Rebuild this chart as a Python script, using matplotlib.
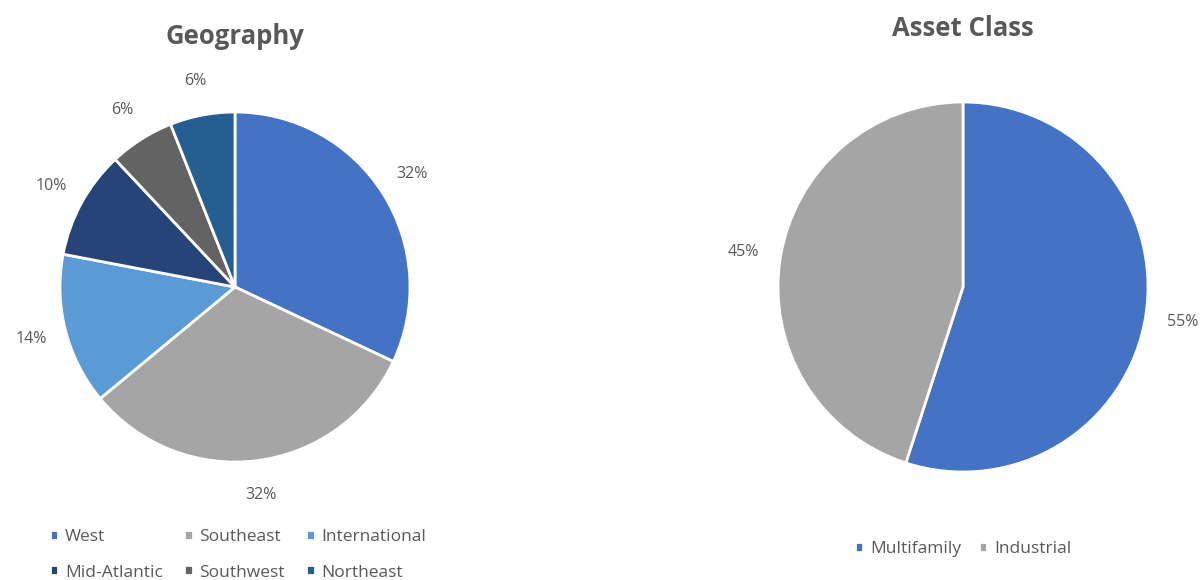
import matplotlib
matplotlib.use("Agg")
import matplotlib.pyplot as plt

plt.rcParams["font.family"] = ["Open Sans", "DejaVu Sans"]

TEXT = "#595959"

# Geography
geo_labels = ["West", "Southeast", "International", "Mid-Atlantic", "Southwest", "Northeast"]
geo_values = [32, 32, 14, 10, 6, 6]
geo_colors = ["#4472C4", "#A5A5A5", "#5B9BD5", "#264478", "#636363", "#255E91"]

# Asset class
asset_labels = ["Multifamily", "Industrial"]
asset_values = [55, 45]
asset_colors = ["#4472C4", "#A5A5A5"]


def draw_pie(ax, values, colors):
    wedges, _, _ = ax.pie(values, colors=colors, startangle=90, counterclock=False,
                          autopct="%1.0f%%", pctdistance=1.2,
                          wedgeprops=dict(edgecolor="white", linewidth=2),
                          textprops=dict(color=TEXT, fontsize=11.5))
    ax.set_xlim(-1, 1)
    ax.set_ylim(-1, 1)
    ax.set_aspect("equal")
    return wedges


W, H = 1200, 580
fig = plt.figure(figsize=(12, 5.8), dpi=100)

# left pie: centre (235, 287), r 175 px
ax1 = fig.add_axes([(235 - 175) / W, (H - 287 - 175) / H, 350 / W, 350 / H])
w1 = draw_pie(ax1, geo_values, geo_colors)

# right pie: centre (963, 287), r 185 px
ax2 = fig.add_axes([(963 - 185) / W, (H - 287 - 185) / H, 370 / W, 370 / H])
w2 = draw_pie(ax2, asset_values, asset_colors)

fig.text(235 / W, 1 - 37 / H, "Geography", ha="center", va="center",
         fontsize=18.5, fontweight="bold", color=TEXT)
fig.text(963 / W, 1 - 28 / H, "Asset Class", ha="center", va="center",
         fontsize=18.5, fontweight="bold", color=TEXT)

leg_kw = dict(frameon=False, fontsize=12.5, labelcolor=TEXT, handlelength=0.5,
              handleheight=0.5, handletextpad=0.4)
# legend fills column-wise, so reorder to read row by row
order = [0, 3, 1, 4, 2, 5]
fig.legend([w1[i] for i in order], [geo_labels[i] for i in order],
           loc="center", bbox_to_anchor=(238 / W, 1 - 555 / H),
           ncol=3, columnspacing=1.2, labelspacing=1.1, **leg_kw)
fig.legend(w2, asset_labels, loc="center", bbox_to_anchor=(963 / W, 1 - 549 / H),
           ncol=2, columnspacing=1.0, **leg_kw)

fig.savefig("out.png", dpi=100, facecolor="white")
